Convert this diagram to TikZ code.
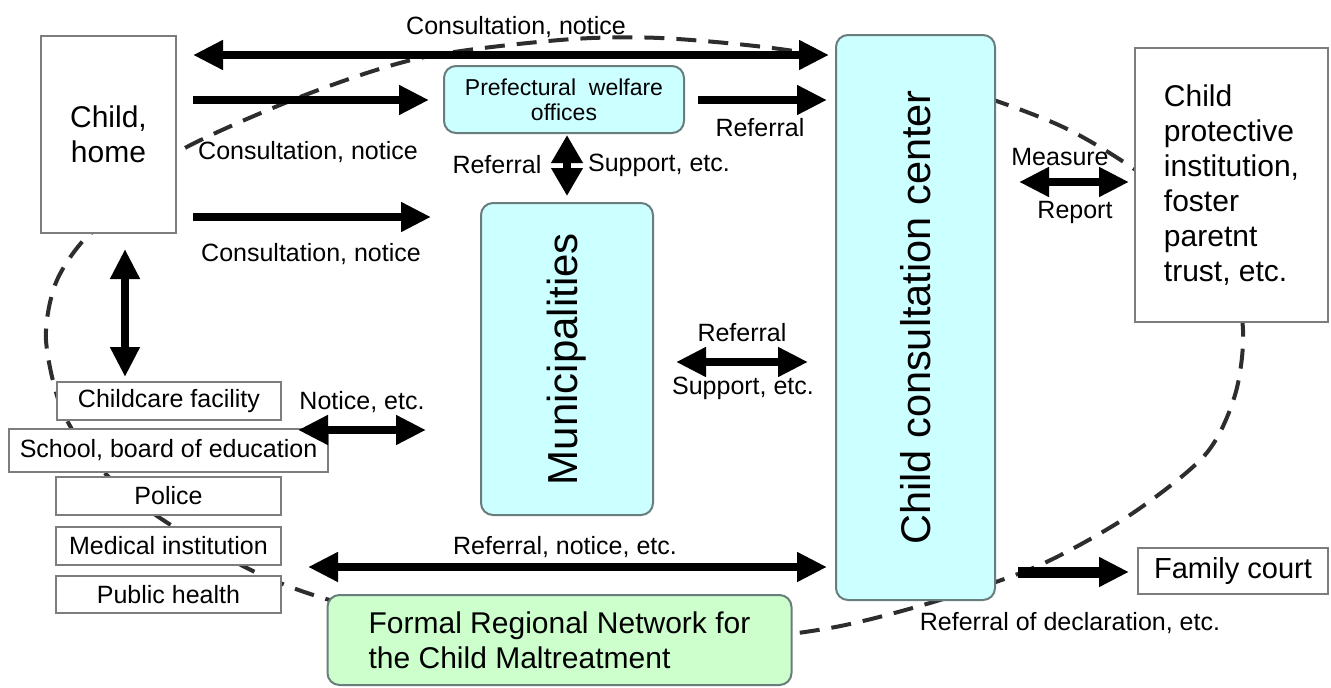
\documentclass[tikz,border=0pt]{standalone}
\usepackage{fontspec}
\setmainfont{Liberation Sans}
\usetikzlibrary{arrows.meta}
\definecolor{cyanfill}{RGB}{204,255,255}
\definecolor{greenfill}{RGB}{204,255,204}
\definecolor{boxline}{RGB}{125,125,125}
\definecolor{cyanline}{RGB}{105,125,125}
\definecolor{dashcol}{RGB}{45,45,45}
\begin{document}
\begin{tikzpicture}[x=1pt,y=-1pt,
  wbox/.style={draw=boxline, line width=2pt, fill=white, inner sep=0pt},
  cbox/.style={draw=cyanline, line width=2pt, fill=cyanfill, rounded corners=12pt, inner sep=0pt},
  gbox/.style={draw=cyanline, line width=2pt, fill=greenfill, rounded corners=12pt, inner sep=0pt},
  arr/.style={line width=8pt, -{Triangle[length=30pt,width=28pt]}},
  dbl/.style={line width=8pt, {Triangle[length=30pt,width=28pt]}-{Triangle[length=30pt,width=28pt]}},
  lab/.style={font=\fontsize{25}{29}\selectfont, inner sep=0pt},
  smallbox/.style={wbox, font=\fontsize{25}{29}\selectfont},
  netline/.style={draw=dashcol, line width=4pt, dash pattern=on 20pt off 12pt}
]
\useasboundingbox (0,0) rectangle (1331,688);

% dashed network curve (drawn first, boxes hide parts of it)
\draw[netline] plot[smooth cycle, tension=0.5] coordinates {
  (176,153) (300,97) (420,58) (560,40) (660,38) (787,50) (915,75)
  (1063,127) (1170,195) (1228,260) (1243,330) (1235,395) (1205,455)
  (1130,515) (1040,565) (940,600) (830,628) (700,642) (500,640)
  (340,603) (255,572) (160,518) (100,468) (62,410) (46,340) (55,285)
  (82,242) (130,200)};

% level coordinates
\coordinate (h55) at (0,55);
\coordinate (h100) at (0,100);
\coordinate (h182) at (0,182);
\coordinate (h217) at (0,217);
\coordinate (h362) at (0,362);
\coordinate (h430) at (0,430);
\coordinate (h567) at (0,567);
\coordinate (h572) at (0,572);
\coordinate (v125) at (125,0);

% boxes
\node[wbox, minimum width=135pt, minimum height=197pt, align=center,
      font=\fontsize{30}{35}\selectfont] (child) at (108.5,134.5) {Child,\\home};
\node[cbox, minimum width=240pt, minimum height=67pt, align=center,
      font=\fontsize{23}{25}\selectfont] (pref) at (564,99.5) {Prefectural\ \ welfare\\offices};
\node[cbox, minimum width=172pt, minimum height=312pt] (muni) at (567,359) {};
\node[rotate=90, inner sep=0pt, font=\fontsize{42}{50}\selectfont] (munitext) at (muni.center) {Municipalities};
\node[cbox, minimum width=159pt, minimum height=565pt] (ccc) at (915.5,317.5) {};
\node[rotate=90, inner sep=0pt, font=\fontsize{41.5}{50}\selectfont] (ccctext) at (ccc.center) {Child consultation center};
\node[wbox, minimum width=193pt, minimum height=274pt, align=left,
      font=\fontsize{30}{35}\selectfont] (cp) at (1231.5,185)
      {Child\\protective\\institution,\\foster\\paretnt\\trust, etc.};
\node[wbox, minimum width=190pt, minimum height=46pt,
      font=\fontsize{29}{33}\selectfont] (fam) at (1233,571) {Family court};
\node[smallbox, minimum width=224pt, minimum height=38pt] (childcare) at (169,401) {Childcare facility};
\node[smallbox, minimum width=319pt, minimum height=43pt] (school) at (168.5,450.5) {School, board of education};
\node[smallbox, minimum width=225pt, minimum height=38pt] (police) at (168.5,496) {Police};
\node[smallbox, minimum width=225pt, minimum height=38pt] (medical) at (168.5,546) {Medical institution};
\node[smallbox, minimum width=225pt, minimum height=37pt] (health) at (168.5,594.5) {Public health};
\node[gbox, minimum width=464pt, minimum height=90pt, align=left,
      font=\fontsize{30}{35}\selectfont] (formal) at (559.5,640)
      {Formal Regional Network for\\the Child Maltreatment};

% arrows
\draw[dbl, shorten <=16pt, shorten >=6pt] (child.east |- h55) -- (ccc.west |- h55);
\draw[arr, shorten <=16pt, shorten >=14pt] (child.east |- h100) -- (pref.west |- h100);
\draw[arr, shorten <=16pt, shorten >=49pt] (child.east |- h217) -- (muni.west |- h217);
\draw[arr, shorten <=13pt, shorten >=8pt] (pref.east |- h100) -- (ccc.west |- h100);
\draw[line width=8pt, {Triangle[length=28pt,width=30pt]}-{Triangle[length=28pt,width=30pt]},
      shorten <=1pt, shorten >=6pt] (pref.south -| muni.north) -- (muni.north);
\draw[dbl, shorten <=23pt, shorten >=5pt] (ccc.east |- h182) -- (cp.west |- h182);
\draw[dbl, shorten <=15pt, shorten >=4pt] (child.south -| v125) -- (childcare.north -| v125);
\draw[dbl, shorten <=16pt, shorten >=54pt] (childcare.east |- h430) -- (muni.west |- h430);
\draw[dbl, shorten <=22pt, shorten >=27pt] (muni.east |- h362) -- (ccc.west |- h362);
\draw[dbl, shorten <=26pt, shorten >=8pt] (medical.east |- h567) -- (ccc.west |- h567);
\draw[arr, line width=11pt, shorten <=22pt, shorten >=8pt] (ccc.east |- h572) -- (fam.west |- h572);

% labels
\node[lab] (l1) at (516,27) {Consultation, notice};
\node[lab] (l2) at (308,152) {Consultation, notice};
\node[lab] (l3) at (311,254) {Consultation, notice};
\node[lab] (l4) at (760,128) {Referral};
\node[lab] (l5) at (497,165) {Referral};
\node[lab] (l6) at (659,165) {Support, etc.};
\node[lab] (l7) at (1060,157) {Measure};
\node[lab] (l8) at (1075,212) {Report};
\node[lab] (l9) at (362,402) {Notice, etc.};
\node[lab] (l10) at (742,333) {Referral};
\node[lab] (l11) at (743,388) {Support, etc.};
\node[lab] (l12) at (565,547) {Referral, notice, etc.};
\node[lab] (l13) at (1070,623) {Referral of declaration, etc.};
\end{tikzpicture}
\end{document}
